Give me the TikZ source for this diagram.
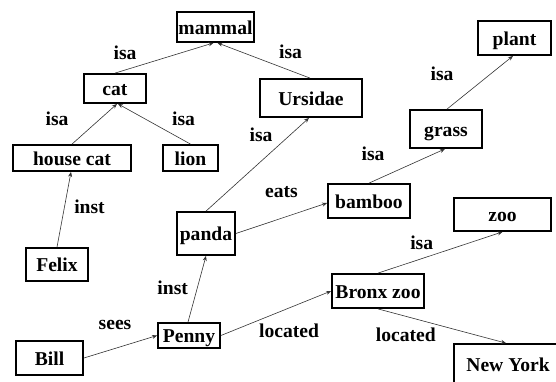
\documentclass[tikz,border=0pt]{standalone}
\usepackage{fontspec}
\setmainfont{Liberation Serif}
\usetikzlibrary{arrows.meta}
\begin{document}
\begin{tikzpicture}[x=1pt,y=-1pt,
  every node/.style={font=\fontsize{19.6}{22}\selectfont\bfseries},
  concept/.style={draw, line width=1.8pt, inner sep=0pt, text height=14pt, text depth=0pt},
  rel/.style={anchor=base, inner sep=0pt},
  link/.style={line width=0.6pt, draw=black!80, -{Stealth[length=5pt,width=4pt]}}]
\useasboundingbox (0,0) rectangle (556,381);
\begin{scope}
\clip (0,0) rectangle (556,381);
% concept boxes
\node[concept, minimum width=77pt, minimum height=30pt] (mammal) at (215.5,27) {mammal};
\node[concept, minimum width=62pt, minimum height=29pt] (cat) at (115,88.5) {cat};
\node[concept, minimum width=118pt, minimum height=26pt] (housecat) at (72,158) {house cat};
\node[concept, minimum width=55pt, minimum height=26pt] (lion) at (190.5,158) {lion};
\node[concept, minimum width=102pt, minimum height=38pt] (ursidae) at (311,98) {Ursidae};
\node[concept, minimum width=73pt, minimum height=34pt] (plant) at (514.5,38) {plant};
\node[concept, minimum width=72pt, minimum height=38pt] (grass) at (446,129) {grass};
\node[concept, minimum width=82pt, minimum height=34pt] (bamboo) at (369,201) {bamboo};
\node[concept, minimum width=97pt, minimum height=33pt] (zoo) at (502.5,214.5) {zoo};
\node[concept, minimum width=92pt, minimum height=34pt] (bronx) at (378,291) {Bronx zoo};
\node[concept, minimum width=108pt, minimum height=40pt] (newyork) at (508,364) {New York};
\node[concept, minimum width=58pt, minimum height=43pt] (panda) at (206,233.5) {panda};
\node[concept, minimum width=62pt, minimum height=33pt] (felix) at (57,264.5) {Felix};
\node[concept, minimum width=62pt, minimum height=25pt] (penny) at (189,335.5) {Penny};
\node[concept, minimum width=67pt, minimum height=34pt] (bill) at (49.5,358) {Bill};
\end{scope}
% relations
\draw[link] (cat.north) -- ([xshift=-2pt]mammal.south);
\draw[link] ([xshift=-1pt]ursidae.north) -- ([xshift=2pt]mammal.south);
\draw[link] (housecat.north) -- ([xshift=2pt]cat.south);
\draw[link] (lion.north) -- ([xshift=3pt]cat.south);
\draw[link] (felix.north) -- ([xshift=-1pt]housecat.south);
\draw[link] (panda.north) -- ([xshift=-2pt]ursidae.south);
\draw[link] (panda.east) -- ([yshift=-2pt]bamboo.west);
\draw[link] (bamboo.north) -- ([xshift=-1pt]grass.south);
\draw[link] ([xshift=1pt]grass.north) -- ([xshift=-1.5pt]plant.south);
\draw[link] ([xshift=-1pt]penny.north) -- (panda.south);
\draw[link] (bill.east) -- (penny.west);
\draw[link] (penny.east) -- (bronx.west);
\draw[link] (bronx.north) -- (zoo.south);
\draw[link] (bronx.south) -- ([xshift=-2pt]newyork.north);
% relation labels
\node[rel] (l1) at (125,59) {isa};
\node[rel] (l2) at (290.5,58) {isa};
\node[rel] (l3) at (57,125) {isa};
\node[rel] (l4) at (183.5,125) {isa};
\node[rel] (l5) at (261,141.7) {isa};
\node[rel] (l6) at (89.5,213.3) {inst};
\node[rel] (l7) at (281.5,197) {eats};
\node[rel] (l8) at (373,160) {isa};
\node[rel] (l9) at (442,80) {isa};
\node[rel] (l10) at (172.7,294) {inst};
\node[rel] (l11) at (115,329.3) {sees};
\node[rel] (l12) at (289,337.7) {located};
\node[rel] (l13) at (421.7,249) {isa};
\node[rel] (l14) at (405.8,341.7) {located};
\end{tikzpicture}
\end{document}
